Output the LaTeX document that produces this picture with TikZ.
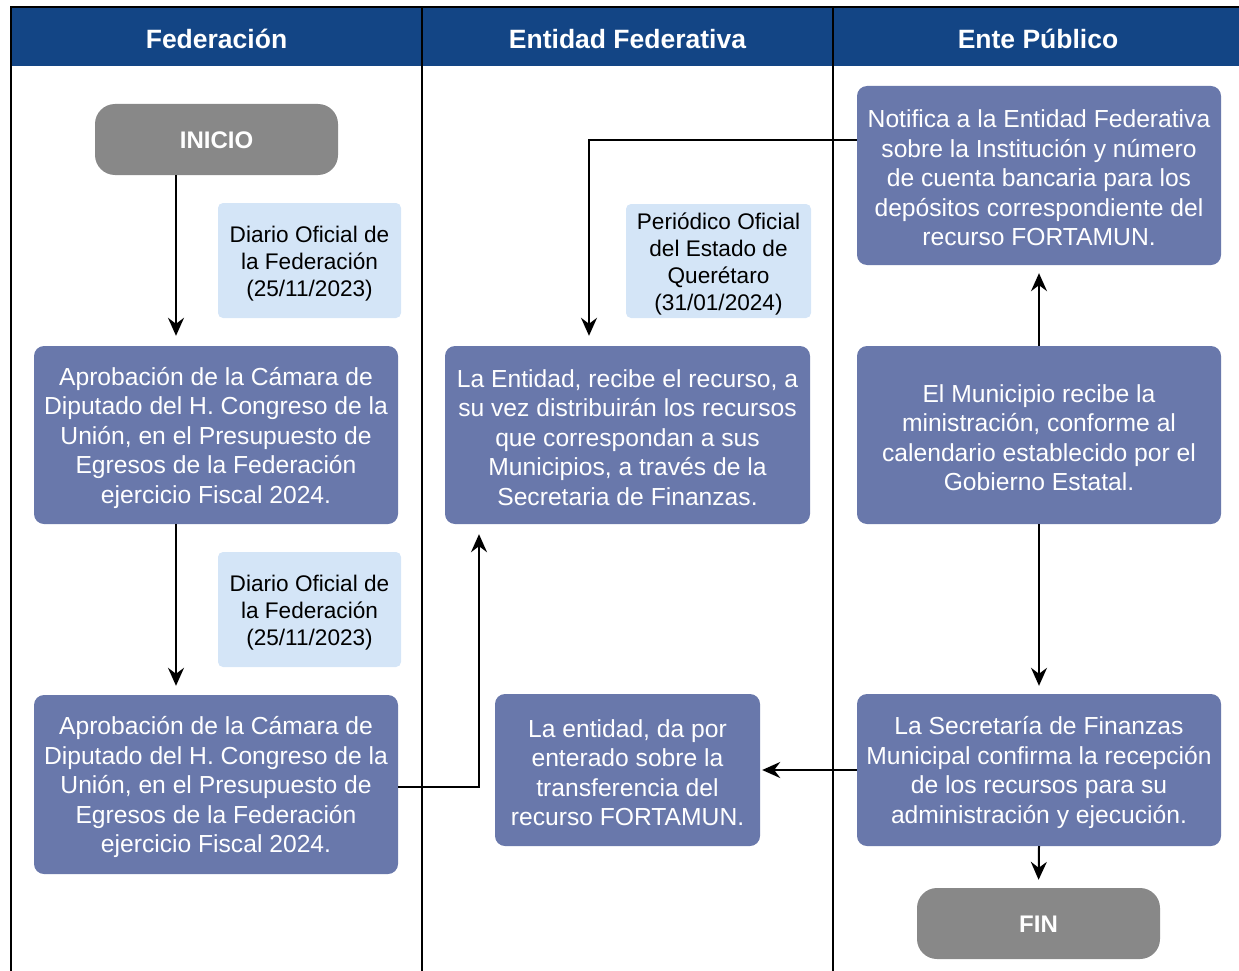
\documentclass[tikz,border=0pt]{standalone}
\usepackage{fontspec}
\setmainfont{Liberation Sans}
\usetikzlibrary{arrows.meta}
\definecolor{hdrblue}{HTML}{134585}
\definecolor{procblue}{HTML}{6978AB}
\definecolor{noteblue}{HTML}{D4E5F7}
\definecolor{termgray}{HTML}{888888}
\tikzset{
  proc/.style={fill=procblue, rounded corners=10pt, inner sep=0pt},
  proctxt/.style={text=white, align=center, inner sep=0pt, yshift=-2.5pt,
    font=\fontsize{24.65}{29.5}\selectfont},
  note/.style={fill=noteblue, rounded corners=5pt, inner sep=0pt},
  notetxt/.style={text=black, align=center, inner sep=0pt, yshift=-3pt,
    font=\fontsize{22.6}{27}\selectfont},
  term/.style={fill=termgray, rounded corners=20pt, inner sep=0pt},
  termtxt/.style={text=white, inner sep=0pt, yshift=-1pt,
    font=\bfseries\fontsize{24}{29}\selectfont},
  hdr/.style={text=white, font=\bfseries\fontsize{26.5}{32}\selectfont},
  lane/.style={line width=2pt, draw=black},
  arr/.style={line width=2pt, -{Stealth[length=18pt, width=16pt, inset=6pt]}},
}
\begin{document}
\begin{tikzpicture}[x=1pt,y=-1pt]
\useasboundingbox (0,0) rectangle (1239,971);
% header band
\fill[hdrblue] (11,8) rectangle (1240,66);
% pool and lanes
\draw[lane] (1242,7) -- (11,7) -- (11,973);
\draw[lane] (422,7) -- (422,973);
\draw[lane] (833,7) -- (833,973);
\node[hdr] (h1) at (216.5,39) {Federación};
\node[hdr] (h2) at (627.5,39) {Entidad Federativa};
\node[hdr] (h3) at (1038,39) {Ente Público};

% terminals
\node[term, minimum width=243pt, minimum height=71pt,
  label={[termtxt]center:INICIO}] (ini) at (216.5,139.5) {};
\node[term, minimum width=243pt, minimum height=71pt,
  label={[termtxt]center:FIN}] (fin) at (1038.5,923.5) {};

% notes
\node[note, minimum width=183pt, minimum height=115pt,
  label={[notetxt]center:{Diario Oficial de\\la Federación\\(25/11/2023)}}] (n1) at (309.5,260.5) {};
\node[note, minimum width=183pt, minimum height=115pt,
  label={[notetxt]center:{Diario Oficial de\\la Federación\\(25/11/2023)}}] (n2) at (309.5,609.5) {};
\node[note, minimum width=185pt, minimum height=114pt,
  label={[notetxt]center:{Periódico Oficial\\del Estado de\\Querétaro\\(31/01/2024)}}] (n3) at (718.5,261) {};

% process boxes
\node[proc, minimum width=364pt, minimum height=178pt,
  label={[proctxt]center:{Aprobación de la Cámara de\\Diputado del H. Congreso de la\\Unión, en el Presupuesto de\\Egresos de la Federación\\ejercicio Fiscal 2024.}}] (a1) at (216,435) {};
\node[proc, minimum width=364pt, minimum height=179pt,
  label={[proctxt]center:{Aprobación de la Cámara de\\Diputado del H. Congreso de la\\Unión, en el Presupuesto de\\Egresos de la Federación\\ejercicio Fiscal 2024.}}] (a2) at (216,784.5) {};
\node[proc, minimum width=365pt, minimum height=178pt,
  label={[proctxt]center:{La Entidad, recibe el recurso, a\\su vez distribuirán los recursos\\que correspondan a sus\\Municipios, a través de la\\Secretaria de Finanzas.}}] (b1) at (627.5,435) {};
\node[proc, minimum width=265pt, minimum height=152pt,
  label={[proctxt]center:{La entidad, da por\\enterado sobre la\\transferencia del\\recurso FORTAMUN.}}] (b2) at (627.5,770) {};
\node[proc, minimum width=364pt, minimum height=179pt,
  label={[proctxt]center:{Notifica a la Entidad Federativa\\sobre la Institución y número\\de cuenta bancaria para los\\depósitos correspondiente del\\recurso FORTAMUN.}}] (c1) at (1039,175.5) {};
\node[proc, minimum width=364pt, minimum height=178pt,
  label={[proctxt]center:{El Municipio recibe la\\ministración, conforme al\\calendario establecido por el\\Gobierno Estatal.}}] (c2) at (1039,435) {};
\node[proc, minimum width=364pt, minimum height=152pt,
  label={[proctxt]center:{La Secretaría de Finanzas\\Municipal confirma la recepción\\de los recursos para su\\administración y ejecución.}}] (c3) at (1039,770) {};

% connectors
\draw[arr, shorten >=10pt] ([xshift=-40.5pt]ini.south) -- ([xshift=-40pt]a1.north);
\draw[arr, shorten >=9pt] ([xshift=-40pt]a1.south) -- ([xshift=-40pt]a2.north);
\draw[arr, shorten >=10pt] ([yshift=-2.5pt]a2.east) -| ([xshift=-148.5pt]b1.south);
\draw[arr, shorten >=10pt] ([yshift=35.5pt]c1.west) -| ([xshift=-38.5pt]b1.north);
\draw[arr, shorten >=8pt] (c2.north) -- (c1.south);
\draw[arr, shorten >=8pt] (c2.south) -- (c3.north);
\draw[arr, shorten >=2pt] (c3.west) -- (b2.east);
\draw[arr, shorten >=8pt] (c3.south) -- (fin.north);
\end{tikzpicture}
\end{document}
